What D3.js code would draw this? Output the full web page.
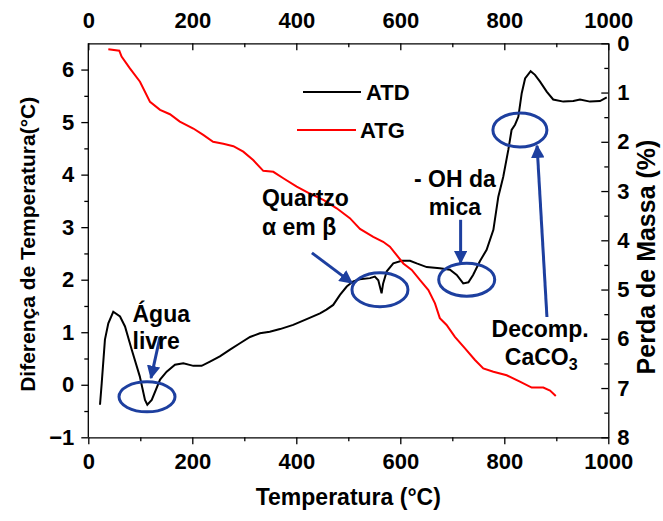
<!DOCTYPE html>
<html><head><meta charset="utf-8">
<script src="https://cdn.jsdelivr.net/npm/d3@7"></script>
<style>body{margin:0;background:#fff}svg{display:block}text{font-family:"Liberation Sans",Arial,sans-serif;font-weight:bold}</style>
</head><body><svg id="c" width="663" height="521"></svg>
<script>
// ---- data ----
const atdTemp = [22.5,25.8,32,38.5,48,61,70.6,83.4,99,109,113.5,122,138,150.7,166.7,182.7,202,218,234,253,272.5,291.7,311,330,349,368.7,394,420,445.6,458,471,484,497,509.6,522,541.7,551,557.7,564,567,574,586.5,602.7,618.7,631.5,650.8,676,695.6,708.5,721,731,740,753,766,779,788.5,798,807.7,814,820.6,827,833.5,840,850.7,859,868.7,881.5,894,913.5,932.7,945.6,964.8,984,997];
const atdVal = [-0.38,0.03,0.86,1.17,1.39,1.30,1.11,0.67,0.16,-0.29,-0.38,-0.29,0.10,0.25,0.38,0.41,0.36,0.36,0.44,0.54,0.67,0.79,0.91,0.98,1.01,1.06,1.14,1.25,1.36,1.43,1.52,1.71,1.87,1.97,2.01,2.03,2.06,1.99,1.74,1.93,2.16,2.31,2.36,2.36,2.31,2.24,2.22,2.19,2.09,1.93,1.95,2.09,2.35,2.57,2.95,3.58,3.96,4.47,4.85,4.95,5.10,5.55,5.83,5.97,5.90,5.77,5.58,5.43,5.39,5.40,5.43,5.39,5.40,5.47];
const atgTemp = [38.5,59.6,64,80,99.4,118.7,138,157,176,202,221,240,259.6,279,298,317,336.5,355.8,375,400.8,426,452,477.7,503,522.5,548,567,580,593,605.8,622,638,654,666.7,676,689,705,724,743.6,759.6,779,804.6,830,852.7,875,888,899];
const atgVal = [0.12,0.15,0.27,0.51,0.78,1.19,1.35,1.44,1.59,1.73,1.86,2.0,2.04,2.09,2.20,2.37,2.59,2.61,2.74,2.91,3.05,3.18,3.35,3.55,3.77,3.93,4.03,4.13,4.30,4.47,4.60,4.81,5.01,5.28,5.58,5.72,5.96,6.19,6.43,6.60,6.67,6.74,6.87,6.99,6.99,7.05,7.16];
const xTicks = [0,200,400,600,800,1000];
const yLeftTicks = [-1,0,1,2,3,4,5,6];
const yRightTicks = [0,1,2,3,4,5,6,7,8];
const seriesNames = ["ATD","ATG"];

// ---- layout ----
const svg = d3.select("#c");
const L=88.3,R=608.3,T=43.3,B=437.3;
const x = d3.scaleLinear().domain([0,1000]).range([L,R]);
const yL = d3.scaleLinear().domain([-1,6.5]).range([B,T]);
const yR = d3.scaleLinear().domain([0,8]).range([T,B]);
const blue = "#1d3f9f";
const fmt = d3.format("d");
svg.append("rect").attr("width",663).attr("height",521).attr("fill","#fff");

function styleAxis(g,fs){
  g.selectAll("path").attr("stroke","#000").attr("stroke-width",1.3);
  g.selectAll("line").attr("stroke","#000").attr("stroke-width",1.3);
  g.selectAll("text").attr("font-size",fs).attr("fill","#000").attr("font-family","Liberation Sans, Arial, sans-serif").attr("font-weight","bold");
}
const fsT = 22;
const minorX = d3.range(100,1000,200);
const minorL = d3.range(-0.5,6.5,1);
const minorR = d3.range(0.5,8,1);

const gB = svg.append("g").attr("transform",`translate(0,${B})`)
  .call(d3.axisBottom(x).tickValues(xTicks).tickSize(7).tickSizeOuter(0).tickPadding(9).tickFormat(fmt));
styleAxis(gB,fsT);
svg.append("g").attr("transform",`translate(0,${B})`).call(d3.axisBottom(x).tickValues(minorX).tickSize(4).tickFormat("")).call(g=>{g.select("path").remove();styleAxis(g,fsT);});

const gTop = svg.append("g").attr("transform",`translate(0,${T})`)
  .call(d3.axisTop(x).tickValues(xTicks).tickSize(-7).tickSizeOuter(0).tickPadding(15).tickFormat(fmt));
styleAxis(gTop,fsT);
svg.append("g").attr("transform",`translate(0,${T})`).call(d3.axisTop(x).tickValues(minorX).tickSize(-4).tickFormat("")).call(g=>{g.select("path").remove();styleAxis(g,fsT);});

const gL = svg.append("g").attr("transform",`translate(${L},0)`)
  .call(d3.axisLeft(yL).tickValues(yLeftTicks).tickSize(7).tickSizeOuter(0).tickPadding(7).tickFormat(fmt));
styleAxis(gL,fsT);
gL.select("path").attr("d",`M0,${B}V${T}`);
svg.append("g").attr("transform",`translate(${L},0)`).call(d3.axisLeft(yL).tickValues(minorL).tickSize(4).tickFormat("")).call(g=>{g.select("path").remove();styleAxis(g,fsT);});

const gR = svg.append("g").attr("transform",`translate(${R},0)`)
  .call(d3.axisRight(yR).tickValues(yRightTicks).tickSize(-7).tickSizeOuter(0).tickPadding(9).tickFormat(fmt));
styleAxis(gR,fsT);
svg.append("g").attr("transform",`translate(${R},0)`).call(d3.axisRight(yR).tickValues(minorR).tickSize(-4).tickFormat("")).call(g=>{g.select("path").remove();styleAxis(g,fsT);});

// axis titles
svg.append("text").attr("x",(L+R)/2).attr("y",505).attr("text-anchor","middle").attr("font-size",23).text("Temperatura (°C)");
svg.append("text").attr("transform",`translate(35,${(T+B)/2+4}) rotate(-90)`).attr("text-anchor","middle").attr("font-size",21).text("Diferença de Temperatura(°C)");
svg.append("text").attr("transform",`translate(655,257) rotate(-90)`).attr("text-anchor","middle").attr("font-size",25).text("Perda de Massa (%)");

// lines
const atd = atdTemp.map((t,i)=>[t,atdVal[i]]);
const atg = atgTemp.map((t,i)=>[t,atgVal[i]]);
svg.append("path").datum(atd).attr("fill","none").attr("stroke","#000").attr("stroke-width",2)
  .attr("d",d3.line().x(d=>x(d[0])).y(d=>yL(d[1])));
svg.append("path").datum(atg).attr("fill","none").attr("stroke","#ff0000").attr("stroke-width",2)
  .attr("d",d3.line().x(d=>x(d[0])).y(d=>yR(d[1])));

// legend
const leg = [{name:seriesNames[0],c:"#000",x1:303,x2:361,y:92,tx:366},{name:seriesNames[1],c:"#ff0000",x1:297,x2:356,y:130,tx:360}];
leg.forEach(l=>{
  svg.append("line").attr("x1",l.x1).attr("x2",l.x2).attr("y1",l.y).attr("y2",l.y).attr("stroke",l.c).attr("stroke-width",2);
  svg.append("text").attr("x",l.tx).attr("y",l.y+8).attr("font-size",22).text(l.name);
});

// annotations (in data coordinates)
const defs = svg.append("defs");
defs.append("marker").attr("id","ah").attr("viewBox","0 0 10 10").attr("refX",9).attr("refY",5)
  .attr("markerWidth",4.5).attr("markerHeight",4.5).attr("orient","auto").attr("markerUnits","strokeWidth")
  .append("path").attr("d","M0,0L10,5L0,10Z").attr("fill",blue);

const ellipses = [{t:112.9,v:-0.23,rx:28,ry:15},{t:560.9,v:1.81,rx:28,ry:17},{t:727.7,v:2.0,rx:28,ry:16.5},{t:830,v:4.85,rx:27,ry:17}];
ellipses.forEach(e=>svg.append("ellipse").attr("cx",x(e.t)).attr("cy",yL(e.v)).attr("rx",e.rx).attr("ry",e.ry)
  .attr("fill","none").attr("stroke",blue).attr("stroke-width",3));
const arrows = [{t1:137.9,v1:0.91,t2:120.6,v2:0.13},{t1:430,v1:2.51,t2:507,v2:1.94},{t1:716,v1:3.14,t2:716,v2:2.32},{t1:882,v1:1.29,t2:863,v2:4.55}];
arrows.forEach(a=>svg.append("line").attr("x1",x(a.t1)).attr("y1",yL(a.v1)).attr("x2",x(a.t2)).attr("y2",yL(a.v2))
  .attr("stroke",blue).attr("stroke-width",3).attr("marker-end","url(#ah)"));

const labels = [
  {s:"Água",t:85,v:1.19,a:"start"},{s:"livre",t:85,v:0.68,a:"start"},
  {s:"Quartzo",t:334,v:3.4,a:"start"},{s:"α em β",t:334,v:2.85,a:"start"},
  {s:"- OH da",t:705,v:3.77,a:"middle"},{s:"mica",t:705,v:3.23,a:"middle"},
  {s:"Decomp.",t:869,v:0.9,a:"middle"}
];
labels.forEach(l=>svg.append("text").attr("x",x(l.t)).attr("y",yL(l.v)).attr("text-anchor",l.a).attr("font-size",23).text(l.s));
const ca = svg.append("text").attr("x",x(871)).attr("y",yL(0.37)).attr("text-anchor","middle").attr("font-size",23);
ca.append("tspan").text("CaCO");
ca.append("tspan").attr("font-size",16).attr("dy",5).text("3");
</script></body></html>
